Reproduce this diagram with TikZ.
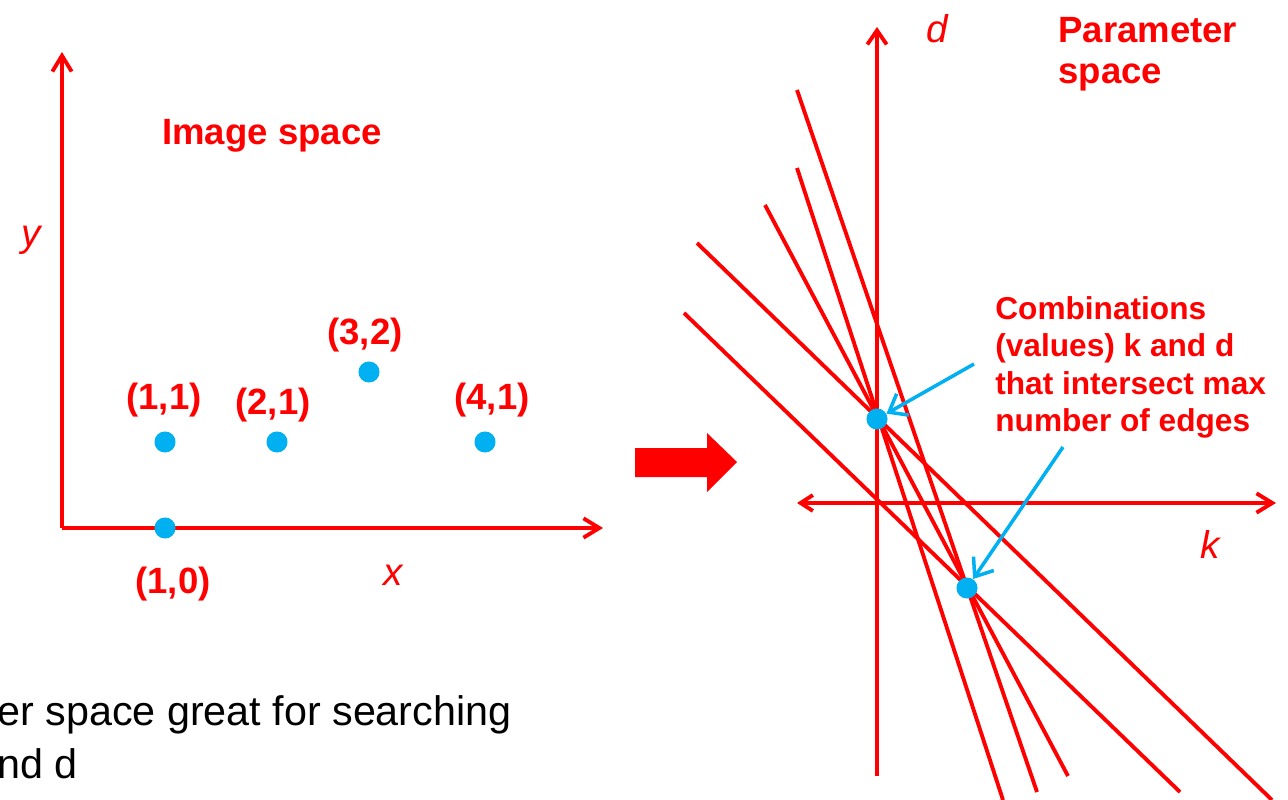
\documentclass[tikz,border=0pt]{standalone}
\usepackage{fontspec}
\setmainfont{Liberation Sans}
\usepackage{tikz}
\usetikzlibrary{arrows.meta, positioning}
\definecolor{hred}{HTML}{FF0000}
\definecolor{hcyan}{HTML}{00B0F0}

\begin{document}
\begin{tikzpicture}[x=0.02cm, y=-0.02cm,
    axis/.style={draw=hred, line width=2.2pt, -{Straight Barb[length=9pt, width=11pt]}},
    pline/.style={draw=hred, line width=2.2pt},
    dot/.style={circle, fill=hcyan, inner sep=0pt, minimum size=12pt},
    ptlabel/.style={anchor=base, inner sep=0pt, text=hred, font=\fontsize{20.8}{24}\selectfont\bfseries},
    axlabel/.style={anchor=base, inner sep=0pt, text=hred, font=\fontsize{22}{26}\selectfont\itshape},
    title/.style={anchor=base west, inner sep=0pt, align=left, text=hred, font=\fontsize{20.8}{23.5}\selectfont\bfseries},
    callout/.style={draw=hcyan, line width=2pt, -{Straight Barb[length=9pt, width=14pt]}}]
    \useasboundingbox (0,0) rectangle (1288,800);

    % Image space: axes
    \coordinate (O) at (62,528);
    \coordinate (ytip) at (62,52);
    \coordinate (xtip) at (603,528);
    \draw[axis] (O) -- (ytip);
    \draw[axis] (O) -- (xtip);
    \node[axlabel] (ylab) at (31,247) {y};
    \node[axlabel] (xlab) at (393,585) {x};
    \node[ptlabel] (imgtitle) at (272,145) {Image space};

    % edge points and their coordinates
    \node[dot] (p11) at (165,442) {};
    \node[dot] (p21) at (277,442) {};
    \node[dot] (p32) at (369,372) {};
    \node[dot] (p41) at (485,442) {};
    \node[dot] (p10) at (165,528) {};
    \node[ptlabel] (l11) at (164,410) {(1,1)};
    \node[ptlabel] (l21) at (273,415) {(2,1)};
    \node[ptlabel] (l32) at (365,345) {(3,2)};
    \node[ptlabel] (l41) at (492,410) {(4,1)};
    \node[ptlabel] (l10) at (173,593) {(1,0)};

    % mapping arrow
    \fill[hred] (635,448) -- (707,448) -- (707,433) -- (737,462) -- (707,492) -- (707,477) -- (635,477) -- cycle;

    % Parameter space: axes
    \coordinate (dbot) at (877,776);
    \coordinate (dtip) at (877,27);
    \coordinate (kleft) at (797,503);
    \coordinate (kright) at (1276,503);
    \draw[axis, -{Straight Barb[length=8pt, width=11pt]}] (dbot) -- (dtip);
    \draw[axis, {Straight Barb[length=7pt, width=9pt]}-{Straight Barb[length=9pt, width=11pt]}] (kleft) -- (kright);
    \node[axlabel] (dlab) at (937,43) {d};
    \node[axlabel] (klab) at (1210,558) {k};
    \node[title] (partitle) at (1058,84) {Parameter\\space};

    % one line per edge point
    \draw[pline] (797,90) -- (1037,792);
    \draw[pline] (797,168) -- (1003,800);
    \draw[pline] (765,205) -- (1068,776);
    \draw[pline] (697,243) -- (1272,800);
    \draw[pline] (684,313) -- (1180,792);

    % intersections
    \node[dot] (dA) at (877,419) {};
    \node[dot] (dB) at (967,588) {};

    % callout
    \node[anchor=base west, inner sep=0pt, align=left, text=hred, font=\fontsize{18}{21.4}\selectfont\bfseries] (note) at (995,432)
        {Combinations\\(values) k and d\\that intersect max\\number of edges};
    \coordinate (c1) at (974,364);
    \coordinate (c2) at (1063,447);
    \draw[callout] (c1) -- (dA);
    \draw[callout] (c2) -- (dB);

    % remark below
    \node[anchor=base west, inner sep=0pt, align=left, font=\fontsize{23.5}{30}\selectfont] (remark) at (-3,778)
        {er space great for searching\\nd d};
\end{tikzpicture}
\end{document}
